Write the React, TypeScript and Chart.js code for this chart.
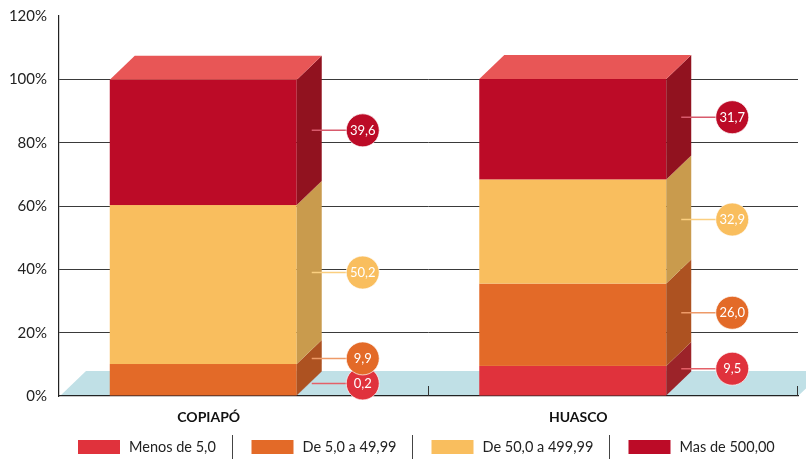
import React, { useEffect, useRef } from 'react';
import { Chart, registerables } from 'chart.js';

Chart.register(...registerables);

// ---- data ----
const categories = ['COPIAPÓ', 'HUASCO'];
const seriesNames = ['Menos de 5,0', 'De 5,0 a 49,99', 'De 50,0 a 499,99', 'Mas de 500,00'];
const menos5 = [0.2, 9.5];
const de5a49 = [9.9, 26.0];
const de50a499 = [50.2, 32.9];
const mas500 = [39.6, 31.7];
const yMax = 120;
const yStep = 20;

// ---- styles ----
const frontColors = ['#e0323c', '#e36a28', '#f9be5e', '#bc0b27'];
const sideColors = ['#9c2329', '#ad5221', '#c99b4d', '#91121f'];
const lineColors = ['#e46068', '#ee9a68', '#fbcf80', '#d85a6c'];
const topColor = '#e85656';
const floorColor = '#c0e0e6';
const FONT = 'Lato, "Open Sans", sans-serif';
const DX = 25;
const DY = 24;
const SHIFT = -40.5;

const seriesValues = [menos5, de5a49, de50a499, mas500];

const fmt = (v: number) => v.toFixed(1).replace('.', ',');

const plugin3d = {
  id: 'bars3d',
  beforeDraw(chart: any) {
    const { ctx, chartArea: a } = chart;
    ctx.save();
    ctx.fillStyle = floorColor;
    ctx.beginPath();
    ctx.moveTo(a.left + 1, a.bottom);
    ctx.lineTo(a.right, a.bottom);
    ctx.lineTo(a.right + DX + 2, a.bottom - DY - 1);
    ctx.lineTo(a.left + DX + 2, a.bottom - DY - 1);
    ctx.closePath();
    ctx.fill();
    ctx.restore();
  },
  beforeDatasetsDraw(chart: any) {
    const { ctx } = chart;
    const n = chart.data.datasets.length;
    ctx.save();
    for (let i = 0; i < categories.length; i++) {
      let topIdx = -1;
      for (let d = 0; d < n; d++) if (seriesValues[d][i] > 0) topIdx = d;
      for (let d = 0; d < n; d++) {
        const el = chart.getDatasetMeta(d).data[i];
        const { x, y, base, width } = el.getProps(['x', 'y', 'base', 'width'], true);
        const xl = x - width / 2 + SHIFT;
        const xr = x + width / 2 + SHIFT;
        ctx.fillStyle = frontColors[d];
        ctx.fillRect(xl, y, xr - xl, base - y);
        ctx.fillStyle = sideColors[d];
        ctx.beginPath();
        ctx.moveTo(xr, y);
        ctx.lineTo(xr + DX, y - DY);
        ctx.lineTo(xr + DX, base - DY);
        ctx.lineTo(xr, base);
        ctx.closePath();
        ctx.fill();
        if (d === topIdx) {
          ctx.fillStyle = topColor;
          ctx.beginPath();
          ctx.moveTo(xl, y);
          ctx.lineTo(xr, y);
          ctx.lineTo(xr + DX, y - DY);
          ctx.lineTo(xl + DX, y - DY);
          ctx.closePath();
          ctx.fill();
        }
      }
    }
    ctx.restore();
    return false;
  },
  afterDraw(chart: any) {
    const { ctx, chartArea: a } = chart;
    const xs = chart.scales.x;
    const n = chart.data.datasets.length;
    ctx.save();
    // category boundary ticks (pointing up)
    ctx.strokeStyle = '#333';
    ctx.lineWidth = 1;
    const cw = (xs.right - xs.left) / categories.length;
    for (let i = 1; i <= categories.length; i++) {
      const bx = Math.round(xs.left + cw * i) - 0.5;
      ctx.beginPath();
      ctx.moveTo(bx, a.bottom);
      ctx.lineTo(bx, a.bottom - 10);
      ctx.stroke();
    }
    // value labels
    for (let i = 0; i < categories.length; i++) {
      let prevY = Infinity;
      for (let d = 0; d < n; d++) {
        const el = chart.getDatasetMeta(d).data[i];
        const { x, y, base, width } = el.getProps(['x', 'y', 'base', 'width'], true);
        const xr = x + width / 2 + SHIFT;
        let ly = (y + base) / 2 - DY / 2;
        if (ly > prevY - 25) ly = prevY - 25;
        prevY = ly;
        const cx = xr + 66;
        ctx.strokeStyle = lineColors[d];
        ctx.lineWidth = 1.5;
        ctx.beginPath();
        ctx.moveTo(xr + 15, ly);
        ctx.lineTo(cx, ly);
        ctx.stroke();
        ctx.fillStyle = frontColors[d];
        ctx.strokeStyle = 'rgba(255,255,255,0.7)';
        ctx.lineWidth = 1;
        ctx.beginPath();
        ctx.arc(cx, ly, 16.5, 0, Math.PI * 2);
        ctx.fill();
        ctx.stroke();
        ctx.fillStyle = '#ffffff';
        ctx.font = `13px ${FONT}`;
        ctx.textAlign = 'center';
        ctx.textBaseline = 'middle';
        ctx.fillText(fmt(seriesValues[d][i]), cx, ly + 0.5);
      }
    }
    // legend
    ctx.font = `14.5px ${FONT}`;
    ctx.textBaseline = 'middle';
    ctx.textAlign = 'left';
    let lx = 78;
    const ly = 447;
    for (let d = 0; d < n; d++) {
      ctx.fillStyle = frontColors[d];
      ctx.fillRect(lx, ly - 7, 42, 14);
      ctx.fillStyle = '#222';
      const tx = lx + 51;
      ctx.fillText(seriesNames[d], tx, ly);
      const tw = ctx.measureText(seriesNames[d]).width;
      if (d < n - 1) {
        const sx = Math.round(tx + tw + 16) + 0.5;
        ctx.strokeStyle = '#444';
        ctx.lineWidth = 1;
        ctx.beginPath();
        ctx.moveTo(sx, 435);
        ctx.lineTo(sx, 459);
        ctx.stroke();
        lx = sx + 19;
      }
    }
    ctx.restore();
  },
};

export default function App() {
  const ref = useRef<HTMLCanvasElement>(null);
  useEffect(() => {
    document.body.style.margin = '0';
    const chart = new Chart(ref.current as HTMLCanvasElement, {
      type: 'bar',
      data: {
        labels: categories,
        datasets: seriesNames.map((name, d) => ({
          label: name,
          data: seriesValues[d],
          backgroundColor: frontColors[d],
          categoryPercentage: 1,
          barPercentage: 0.506,
        })),
      },
      options: {
        animation: false,
        responsive: true,
        maintainAspectRatio: false,
        layout: { padding: { top: 16, right: 8, left: 0, bottom: 33 } },
        plugins: { legend: { display: false }, tooltip: { enabled: false } },
        scales: {
          x: {
            stacked: true,
            grid: { display: false, drawTicks: false },
            border: { display: true, color: '#222', width: 1.2 },
            ticks: {
              font: { family: FONT, size: 14, weight: 'bold' },
              color: '#111',
              labelOffset: -35,
              padding: 13,
            },
            afterFit: (s: any) => { s.height = 30; },
          },
          y: {
            stacked: true,
            min: 0,
            max: yMax,
            ticks: {
              stepSize: yStep,
              callback: (v: any) => `${v}%`,
              font: { family: FONT, size: 15 },
              color: '#222',
              padding: 12,
            },
            grid: {
              drawTicks: false,
              color: (c: any) => (c.tick && (c.tick.value === yMax || c.tick.value === 0) ? 'rgba(0,0,0,0)' : '#3a3a3a'),
              lineWidth: 1,
            },
            border: { display: true, color: '#222', width: 1.2 },
            afterFit: (s: any) => { s.width = 59; s.paddingTop = 0; s.paddingBottom = 0; },
          },
        },
      },
      plugins: [plugin3d],
    });
    return () => chart.destroy();
  }, []);
  return (
    <div style={{ width: 806, height: 459, position: 'relative' }}>
      <canvas ref={ref} />
    </div>
  );
}
